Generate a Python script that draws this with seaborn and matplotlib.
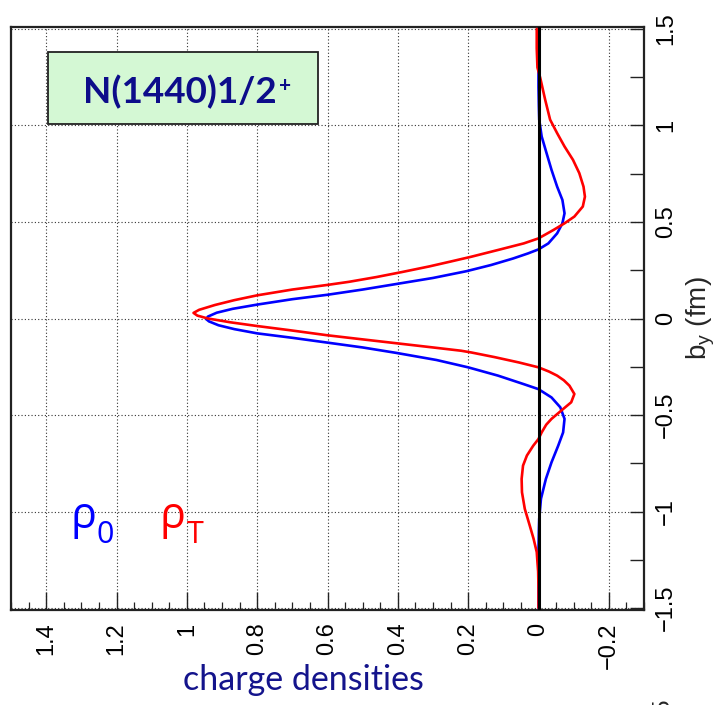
import matplotlib
matplotlib.use('Agg')
import matplotlib.pyplot as plt
import seaborn as sns
import pandas as pd
from matplotlib.patches import Rectangle
from matplotlib.ticker import FixedLocator, FixedFormatter, MultipleLocator

# ---------------- data ----------------
b_rho0 = [-1.5, -1.2, -1.1, -1.038, -0.934, -0.831, -0.745, -0.659, -0.59, -0.52,
          -0.46, -0.409, -0.366, -0.34, -0.296, -0.253, -0.215, -0.178, -0.15, -0.125,
          -0.1, -0.077, -0.055, -0.035, -0.015, -0.003, 0.01, 0.03, 0.05, 0.072,
          0.1, 0.123, 0.15, 0.18, 0.21, 0.245, 0.277, 0.311, 0.337, 0.358,
          0.389, 0.441, 0.493, 0.545, 0.614, 0.683, 0.77, 0.856, 0.943, 1.03,
          1.1, 1.2, 1.5]
rho0 = [0.0, 0.0, -0.001, -0.002, -0.007, -0.021, -0.037, -0.056, -0.07, -0.074,
        -0.062, -0.037, 0.0, 0.042, 0.115, 0.2, 0.29, 0.405, 0.5, 0.6,
        0.7, 0.8, 0.865, 0.91, 0.937, 0.945, 0.94, 0.915, 0.87, 0.8,
        0.7, 0.6, 0.5, 0.4, 0.3, 0.205, 0.135, 0.072, 0.03, 0.0,
        -0.028, -0.053, -0.068, -0.074, -0.068, -0.053, -0.037, -0.023, -0.009, -0.002,
        -0.001, 0.0, 0.0]

b_rhoT = [-1.5, -1.4, -1.31, -1.262, -1.21, -1.141, -1.072, -0.986, -0.9, -0.831,
          -0.762, -0.71, -0.659, -0.624, -0.59, -0.55, -0.52, -0.469, -0.434, -0.391,
          -0.348, -0.32, -0.296, -0.275, -0.253, -0.228, -0.2, -0.176, -0.167, -0.15,
          -0.127, -0.104, -0.087, -0.06, -0.039, -0.02, 0.0, 0.015, 0.029, 0.045,
          0.07, 0.095, 0.12, 0.15, 0.174, 0.19, 0.215, 0.24, 0.27, 0.295,
          0.32, 0.355, 0.389, 0.415, 0.458, 0.493, 0.528, 0.58, 0.631, 0.683,
          0.753, 0.822, 0.891, 0.96, 1.03, 1.133, 1.246, 1.3, 1.4, 1.5]
rhoT = [0.0, 0.0, 0.001, 0.003, 0.005, 0.014, 0.025, 0.039, 0.047, 0.048,
        0.044, 0.033, 0.015, 0.0, -0.009, -0.022, -0.037, -0.07, -0.093, -0.102,
        -0.088, -0.072, -0.053, -0.03, 0.0, 0.055, 0.125, 0.191, 0.22, 0.3,
        0.41, 0.52, 0.6, 0.71, 0.8, 0.875, 0.94, 0.97, 0.981, 0.965,
        0.92, 0.865, 0.8, 0.7, 0.6, 0.539, 0.46, 0.39, 0.31, 0.25,
        0.191, 0.115, 0.042, 0.0, -0.042, -0.074, -0.102, -0.126, -0.132, -0.128,
        -0.116, -0.098, -0.074, -0.053, -0.033, -0.019, -0.005, 0.003, 0.005, 0.005]

x_ticks = [1.4, 1.2, 1.0, 0.8, 0.6, 0.4, 0.2, 0.0, -0.2]
x_tick_labels = ['1.4', '1.2', '1', '0.8', '0.6', '0.4', '0.2', '0', '\u22120.2']
y_ticks = [1.5, 1.0, 0.5, 0.0, -0.5, -1.0, -1.5]
y_tick_labels = ['1.5', '1', '0.5', '0', '\u22120.5', '\u22121', '\u22121.5']
zero_line = 0.0

title_text = 'N(1440)1/2'
title_sup = '+'
x_label = 'charge densities'
y_label = 'b$_\\mathregular{y}$ (fm)'
legend_rho = '\u03c1'
legend_sub = ['0', 'T']

df = pd.concat([
    pd.DataFrame({'b': b_rho0, 'rho': rho0, 'series': 'rho0'}),
    pd.DataFrame({'b': b_rhoT, 'rho': rhoT, 'series': 'rhoT'}),
], ignore_index=True)

# ---------------- style ----------------
sns.set_theme(style='white')
plt.rcParams['font.family'] = ['Liberation Sans', 'DejaVu Sans']
plt.rcParams['axes.unicode_minus'] = True

W, H = 726, 705
fig = plt.figure(figsize=(W / 100, H / 100), dpi=100)
ax = fig.add_axes([11 / W, 95 / H, 633 / W, 583 / H])

sns.lineplot(data=df, x='rho', y='b', hue='series',
             palette={'rho0': '#0000ff', 'rhoT': '#ff0000'},
             orient='y', sort=True, estimator=None, legend=False,
             linewidth=1.9, ax=ax, zorder=3)
ax.axvline(zero_line, color='black', lw=2.2, zorder=5)

ax.set_xlim(1.5, -0.3)
ax.set_ylim(-1.51, 1.51)

# x axis (bottom)
ax.xaxis.set_major_locator(FixedLocator(x_ticks))
ax.xaxis.set_major_formatter(FixedFormatter(x_tick_labels))
ax.xaxis.set_minor_locator(MultipleLocator(0.05))
ax.tick_params(axis='x', which='major', direction='in', length=13, width=1.0,
               bottom=True, top=False, pad=9, labelsize=17, labelrotation=90,
               colors='#222222', labelcolor='black')
ax.tick_params(axis='x', which='minor', direction='in', length=6, width=0.9,
               bottom=True, top=False, colors='#222222')

# y axis (right)
ax.yaxis.tick_right()
ax.yaxis.set_label_position('right')
ax.yaxis.set_major_locator(FixedLocator(y_ticks))
ax.yaxis.set_major_formatter(FixedFormatter(y_tick_labels))
ax.yaxis.set_minor_locator(MultipleLocator(0.25))
ax.tick_params(axis='y', which='both', direction='in', length=10, width=1.0,
               left=False, right=True, labelleft=False, labelright=True,
               colors='#222222', labelcolor='black')
ax.tick_params(axis='y', which='major', pad=8, labelsize=17, labelrotation=90)
for lab in ax.get_yticklabels():
    lab.set_verticalalignment('center')
    lab.set_horizontalalignment('left')

ax.set_xlabel('')
ax.set_ylabel(y_label, fontsize=20, rotation=90)
ax.yaxis.set_label_coords(1.064, 0.5)

ax.grid(True, which='major', linestyle=(0, (1, 2)), color='#333333', lw=0.8)
ax.set_axisbelow(True)
for sp in ax.spines.values():
    sp.set_color('#222222')
    sp.set_linewidth(1.6)

# annotation box
fig.add_artist(Rectangle((48 / W, 1 - 124 / H), 270 / W, 72 / H,
                         transform=fig.transFigure, facecolor='#d4f8d4',
                         edgecolor='#222222', lw=1.3, zorder=4))
fig.text(179.5 / W, 1 - 103 / H, title_text, family=['Lato', 'DejaVu Sans'],
         weight='bold', fontsize=26.5, color='#0d0d8a', ha='center', va='baseline', zorder=5)
fig.text(285.5 / W, 1 - 86 / H, title_sup, family=['Lato', 'DejaVu Sans'],
         weight='bold', fontsize=15, color='#0d0d8a', ha='center', va='center', zorder=5)

# legend-like labels
gfam = ['Open Sans', 'DejaVu Sans']
fig.text(83 / W, 1 - 528 / H, legend_rho, family=gfam, fontsize=31, color='#0000ff',
         ha='center', va='baseline')
fig.text(105 / W, 1 - 543 / H, legend_sub[0], family=gfam, fontsize=22, color='#0000ff',
         ha='center', va='baseline')
fig.text(172 / W, 1 - 528 / H, legend_rho, family=gfam, fontsize=31, color='#ff0000',
         ha='center', va='baseline')
fig.text(195.5 / W, 1 - 543 / H, legend_sub[1], family=gfam, fontsize=22, color='#ff0000',
         ha='center', va='baseline')

# x label
fig.text(303 / W, 1 - 680 / H, x_label, family=['Lato', 'DejaVu Sans'], fontsize=24.5,
         color='#14148c', ha='center', va='center')

# partially visible label from the panel below (cut off in the reference too)
fig.text(663 / W, 8 / H, y_tick_labels[-1], rotation=90, ha='center', va='top', fontsize=17)

fig.savefig('out.png', dpi=100)
